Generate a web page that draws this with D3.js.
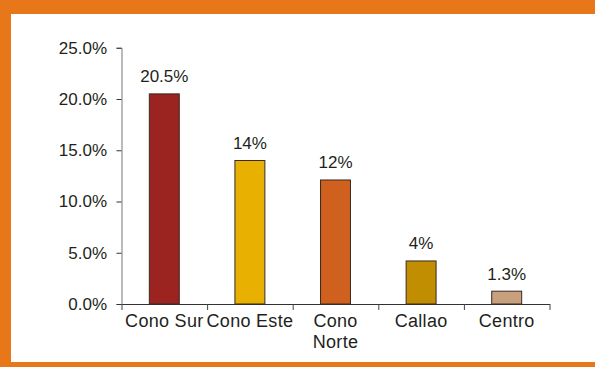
<!DOCTYPE html>
<html><head><meta charset="utf-8">
<script src="https://cdn.jsdelivr.net/npm/d3@7"></script>
<style>html,body{margin:0;padding:0;background:#fff;}svg{display:block;}</style>
</head><body>
<svg id="c" width="595" height="367"></svg>
<script>
const categories = [["Cono Sur"], ["Cono Este"], ["Cono", "Norte"], ["Callao"], ["Centro"]];
const values = [20.5, 14.0, 12.1, 4.2, 1.25];
const valueLabels = ["20.5%", "14%", "12%", "4%", "1.3%"];
const colors = ["#9C2420", "#E8B000", "#D0601E", "#C08E00", "#C9A07E"];
const yTicks = [0, 5, 10, 15, 20, 25];

(function () {
const svg = d3.select("#c");
svg.append("rect").attr("width", 595).attr("height", 367).attr("fill", "#E8771A");
svg.append("rect").attr("x", 11).attr("y", 14).attr("width", 584).attr("height", 348).attr("fill", "#fff");

const mLeft = 121.5, mRight = 549.5, mTop = 47.75, mBottom = 304;
const x = d3.scaleBand().domain(d3.range(categories.length)).range([mLeft, mRight]).paddingInner(0.65).paddingOuter(0.325);
const y = d3.scaleLinear().domain([0, 25]).range([mBottom, mTop]);
const font = "Liberation Sans, Arial, sans-serif";
const fs = 17;

// y axis
const ya = svg.append("g").attr("transform", `translate(${mLeft},0)`)
  .call(d3.axisLeft(y).tickValues(yTicks).tickFormat(d => d.toFixed(1) + "%").tickSize(5).tickPadding(9.5));
ya.select(".domain").attr("stroke", "#777").attr("stroke-width", 1);
ya.selectAll(".tick line").attr("stroke", "#333");
ya.selectAll(".tick text").attr("font-family", font).attr("font-size", fs).attr("fill", "#231F20");

// x axis
const xb = d3.scaleLinear().domain([0, categories.length]).range([mLeft, mRight]);
const xa = svg.append("g").attr("transform", `translate(0,${mBottom})`)
  .call(d3.axisBottom(xb).tickValues(d3.range(categories.length + 1)).tickFormat("").tickSize(6).tickSizeOuter(0));
xa.select(".domain").attr("stroke", "#333").attr("stroke-width", 1);
xa.selectAll(".tick line").attr("stroke", "#444");

// bars
svg.selectAll("rect.bar").data(values).join("rect").attr("class", "bar")
  .attr("x", (d, i) => x(i)).attr("width", x.bandwidth())
  .attr("y", d => y(d)).attr("height", d => y(0) - y(d))
  .attr("fill", (d, i) => colors[i]).attr("stroke", "#3a2a25").attr("stroke-width", 1);

// value labels
svg.selectAll("text.val").data(values).join("text").attr("class", "val")
  .attr("x", (d, i) => x(i) + x.bandwidth() / 2).attr("y", d => y(d) - 11.5)
  .attr("text-anchor", "middle").attr("font-family", font).attr("font-size", fs).attr("fill", "#231F20")
  .text((d, i) => valueLabels[i]);

// category labels
const cl = svg.selectAll("text.cat").data(categories).join("text").attr("class", "cat")
  .attr("text-anchor", "middle").attr("font-family", font).attr("font-size", 18).attr("fill", "#231F20")
  .attr("letter-spacing", 0.3)
  .attr("transform", (d, i) => `translate(${xb(i + 0.5)},${mBottom + 23})`);
cl.selectAll("tspan").data(d => d).join("tspan").attr("x", 0).attr("dy", (d, j) => j === 0 ? 0 : 21).text(d => d);
})();
</script>
</body></html>
